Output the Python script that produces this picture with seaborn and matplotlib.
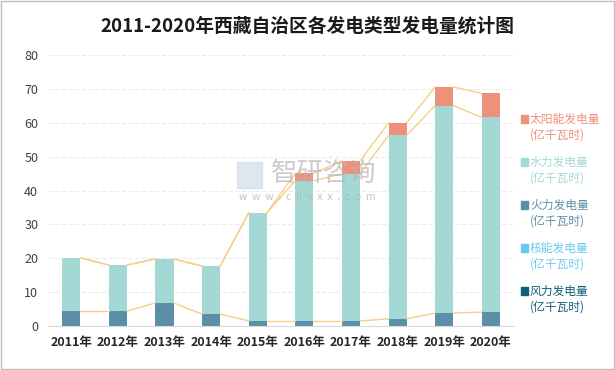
import matplotlib
matplotlib.use('Agg')
import matplotlib.pyplot as plt
from matplotlib.patches import Rectangle
import seaborn as sns
import numpy as np
import pandas as pd

years = ['2011年', '2012年', '2013年', '2014年', '2015年',
         '2016年', '2017年', '2018年', '2019年', '2020年']
wind = [0, 0, 0, 0, 0, 0, 0, 0, 0, 0]
nuclear = [0, 0, 0, 0, 0, 0, 0, 0, 0, 0]
fire = [4.4, 4.4, 6.8, 3.5, 1.5, 1.5, 1.5, 2.1, 3.8, 4.1]
hydro = [15.7, 13.6, 13.0, 14.2, 31.9, 41.4, 43.4, 54.2, 61.3, 57.5]
solar = [0, 0, 0, 0, 0, 2.2, 3.9, 3.7, 5.5, 7.1]

names = ['风力发电量', '核能发电量', '火力发电量', '水力发电量', '太阳能发电量']
colors = ['#0F5F7C', '#6CC8EE', '#5B8FA8', '#A3D8D5', '#EE917A']

sns.set_style('white')
plt.rcParams['font.family'] = ['Noto Sans CJK SC', 'DejaVu Sans']

df = pd.DataFrame({'year': years, 'wind': wind, 'nuclear': nuclear,
                   'fire': fire, 'hydro': hydro, 'solar': solar})

fig = plt.figure(figsize=(6.15, 3.7), dpi=100)
ax = fig.add_axes([0.078, 0.119, 0.758, 0.732])

w = 0.39
bottom = np.zeros(len(years))
tops = []
for col, c in zip(['wind', 'nuclear', 'fire', 'hydro', 'solar'], colors):
    sns.barplot(data=df, x='year', y=col, color=c, width=w, bottom=bottom,
                ax=ax, saturation=1, errorbar=None, linewidth=0)
    bottom = bottom + df[col].values
    tops.append(bottom.copy())

# series lines between bars (fire, hydro, solar tops)
xs = np.arange(len(years))
for t in tops[2:]:
    for i in range(len(years) - 1):
        ax.plot([xs[i] + w / 2, xs[i + 1] - w / 2], [t[i], t[i + 1]],
                color='#F7CF85', lw=1.0, zorder=3)

ax.set_ylim(0, 80)
ax.set_xlim(-0.5, len(years) - 0.5)
ax.set_yticks(range(0, 81, 10))
ax.set_xlabel('')
ax.set_ylabel('')
ax.yaxis.grid(True, color='#EBEBEB', lw=0.8, linestyle=(0, (4, 2)))
ax.set_axisbelow(True)
for s in ['top', 'right', 'left']:
    ax.spines[s].set_visible(False)
ax.spines['bottom'].set_color('#D9D9D9')
ax.tick_params(axis='both', length=0, pad=7)
ax.tick_params(axis='y', labelsize=9, labelcolor='#404040')
ax.tick_params(axis='x', labelsize=9, labelcolor='#262626')
for lbl in ax.get_xticklabels():
    lbl.set_fontweight('bold')

fig.text(0.5, 0.93, '2011-2020年西藏自治区各发电类型发电量统计图',
         ha='center', va='center', fontsize=13.5, fontweight='bold',
         color='#1a1a1a')

# watermark
fig.text(0.527, 0.532, '智研咨询', fontsize=19, color='#B5B5B5', alpha=0.7,
         ha='center', va='center')
fig.text(0.5, 0.467, 'w  w  w  .  c  h  y  x  x  .  c  o  m', fontsize=7.5,
         color='#B5B5B5', alpha=0.8, ha='center', va='center')
fig.patches.append(Rectangle((237 / 615, 1 - 188 / 370), 25 / 615, 26 / 370,
                             transform=fig.transFigure, color='#C9D6E6',
                             alpha=0.6))

# legend
for k, i in enumerate([4, 3, 2, 1, 0]):
    y = 1 - (119 + 43 * k) / 370
    fig.patches.append(Rectangle((521 / 615, y - 4 / 370), 7 / 615, 8 / 370,
                                 transform=fig.transFigure, color=colors[i]))
    fig.text(530 / 615, y, names[i], fontsize=8.5, color=colors[i],
             va='center')
    fig.text(530 / 615, y - 16.5 / 370, '(亿千瓦时)', fontsize=8.5,
             color=colors[i], va='center')

fig.patches.append(Rectangle((0.002, 0.003), 0.996, 0.994,
                             transform=fig.transFigure, fill=False,
                             edgecolor='#BFBFBF', lw=1))

fig.savefig('out.png', dpi=100)
